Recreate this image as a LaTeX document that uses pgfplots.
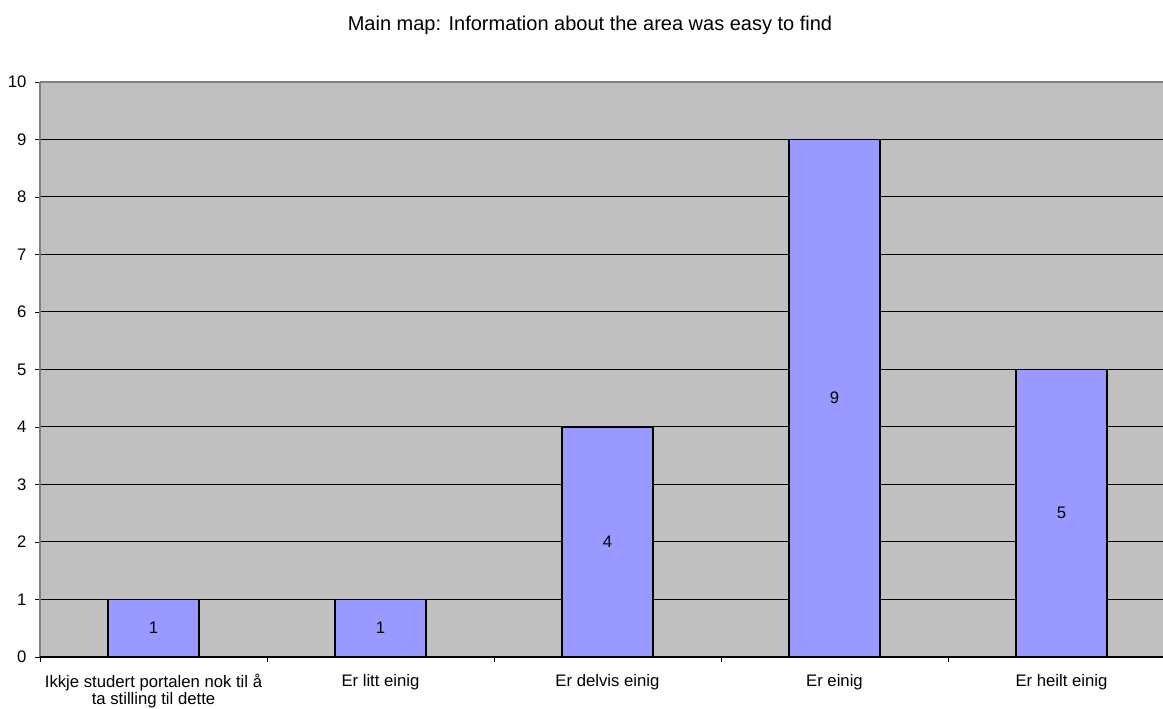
\documentclass[border=0pt]{standalone}
\usepackage{pgfplots}
\pgfplotsset{compat=1.18}
\usepackage{pgfplotstable}
\usepackage{fontspec}
\setmainfont{Liberation Sans}

\definecolor{plotbg}{HTML}{C0C0C0}
\definecolor{barfill}{HTML}{9999FF}
\definecolor{frame}{HTML}{808080}

\pgfplotstableread{
x v
0 1
1 1
2 4
3 9
4 5
}\answers

\begin{document}
\begin{tikzpicture}[x=1pt,y=1pt]
\useasboundingbox (-40,-52) rectangle (1123,657);
\begin{axis}[
  at={(0,0)}, anchor=south west,
  scale only axis,
  width=1135pt, height=575pt,
  xmin=-0.5, xmax=4.5,
  ymin=0, ymax=10,
  axis background/.style={fill=plotbg},
  axis line style={draw=none},
  ytick={0,...,10},
  xtick={-0.5,0.5,...,4.5},
  xticklabels={},
  extra x ticks={0,1,2,3,4},
  extra x tick labels={{Ikkje studert portalen nok til å\\ta stilling til dette},Er litt einig,Er delvis einig,Er einig,Er heilt einig},
  extra x tick style={major tick length=0pt, grid=none,
    tick label style={align=center, anchor=north, inner sep=0pt,
      font=\fontsize{16.7}{17.2}\selectfont, yshift=-17pt}},
  xtick pos=bottom, ytick pos=left,
  tick align=outside,
  major tick length=5pt,
  tick style={black, line width=0.9pt},
  ymajorgrids,
  major grid style={black, line width=1pt},
  yticklabel style={font=\fontsize{16.7}{18}\selectfont, xshift=-5pt},
  /pgf/number format/assume math mode=true,
  clip=false,
]
\addplot[ybar, bar width=91pt, fill=barfill, draw=black, line width=1.6pt]
  table[x=x, y=v] {\answers};
\addplot[draw=none, mark=none, nodes near coords, point meta=explicit symbolic,
  every node near coord/.append style={anchor=center, font=\fontsize{16.7}{18}\selectfont}]
  table[x=x, y expr=\thisrow{v}/2, meta=v] {\answers};
\draw[frame, line width=1.6pt] (rel axis cs:0,0) -- (rel axis cs:0,1);
\draw[frame, line width=1.6pt] (rel axis cs:0,1) -- (rel axis cs:1,1);
\draw[black, line width=1.5pt] (rel axis cs:0,0) -- (rel axis cs:1,0);
\end{axis}
\node[anchor=base, font=\fontsize{20}{24}\selectfont] at (550,626) {Main map: Information about the area was easy to find};
\end{tikzpicture}
\end{document}
